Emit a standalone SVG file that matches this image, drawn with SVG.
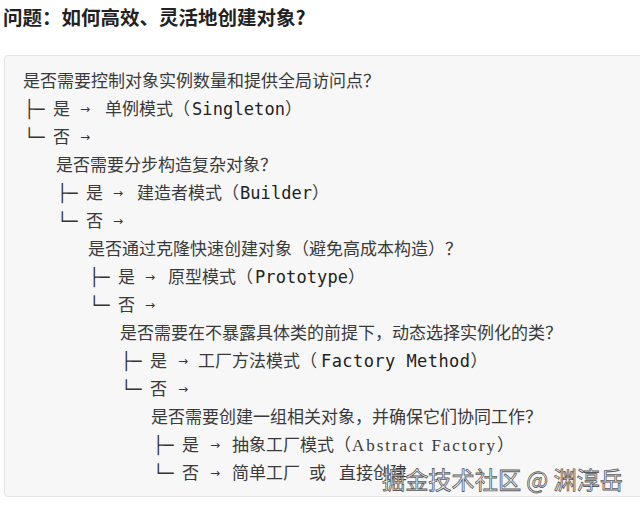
<svg xmlns="http://www.w3.org/2000/svg" width="640" height="512" viewBox="0 0 640 512">
<style>
.t{font-family:"Noto Sans CJK SC","Liberation Sans",sans-serif;font-size:17px;fill:#3a3a3a}
.title{font-family:"Noto Sans CJK SC","Liberation Sans",sans-serif;font-size:19.5px;font-weight:bold;fill:#222}
.tree{font-family:"DejaVu Sans Mono","Liberation Mono",monospace;font-size:17px;fill:#333}
.arr{font-family:"DejaVu Sans","Liberation Sans",sans-serif;font-size:12px;fill:#333}
.mono{font-family:"DejaVu Sans Mono","Liberation Mono",monospace;font-size:17px;fill:#222}
.serif{font-family:"Liberation Serif",serif;font-size:17px;fill:#3a3a3a}
.wm{font-family:"Noto Sans CJK SC","Liberation Sans",sans-serif;font-size:24px;fill:#f4f4f4;stroke:#5a5a5a;stroke-width:0.8}
</style>
<rect width="640" height="512" fill="#ffffff"/>
<g id="title"><text class="title" x="3" y="24.5">问题：如何高效、灵活地创建对象?</text></g>
<rect id="box" x="4.5" y="55.5" width="640" height="441" rx="3" fill="#f7f7f7" stroke="#e4e4e4"/>

<g id="q0"><text class="t" x="23" y="86.5">是否需要控制对象实例数量和提供全局访问点？</text></g>
<g id="yes0">
<text class="tree" x="24" y="114.5">├─</text>
<text class="t" x="53" y="114.5">是</text>
<text class="arr" x="80" y="112.5">→</text>
<text class="t" x="105" y="114.5">单例模式（<tspan class="mono" x="192" textLength="93">Singleton</tspan>）</text>
</g>
<g id="no0">
<text class="tree" x="24" y="142.5">└─</text>
<text class="t" x="53" y="142.5">否</text>
<text class="arr" x="80" y="140.5">→</text>
</g>

<g id="q1"><text class="t" x="56" y="170.5">是否需要分步构造复杂对象？</text></g>
<g id="yes1">
<text class="tree" x="57" y="198.5">├─</text>
<text class="t" x="86" y="198.5">是</text>
<text class="arr" x="113" y="196.5">→</text>
<text class="t" x="137" y="198.5">建造者模式（<tspan class="mono" x="240" textLength="72">Builder</tspan>）</text>
</g>
<g id="no1">
<text class="tree" x="57" y="226.5">└─</text>
<text class="t" x="86" y="226.5">否</text>
<text class="arr" x="113" y="224.5">→</text>
</g>

<g id="q2"><text class="t" x="88" y="254.5">是否通过克隆快速创建对象（避免高成本构造）？</text></g>
<g id="yes2">
<text class="tree" x="89" y="282.5">├─</text>
<text class="t" x="118" y="282.5">是</text>
<text class="arr" x="145" y="280.5">→</text>
<text class="t" x="168" y="282.5">原型模式（<tspan class="mono" x="255" textLength="93">Prototype</tspan>）</text>
</g>
<g id="no2">
<text class="tree" x="89" y="310.5">└─</text>
<text class="t" x="118" y="310.5">否</text>
<text class="arr" x="145" y="308.5">→</text>
</g>

<g id="q3"><text class="t" x="120" y="338.5">是否需要在不暴露具体类的前提下，动态选择实例化的类？</text></g>
<g id="yes3">
<text class="tree" x="121" y="366.5">├─</text>
<text class="t" x="150" y="366.5">是</text>
<text class="arr" x="178" y="364.5">→</text>
<text class="t" x="198" y="366.5">工厂方法模式（<tspan class="mono" x="321" textLength="149">Factory Method</tspan>）</text>
</g>
<g id="no3">
<text class="tree" x="121" y="394.5">└─</text>
<text class="t" x="150" y="394.5">否</text>
<text class="arr" x="178" y="392.5">→</text>
</g>

<g id="q4"><text class="t" x="151" y="422.5">是否需要创建一组相关对象，并确保它们协同工作？</text></g>
<g id="yes4">
<text class="tree" x="153" y="450.5">├─</text>
<text class="t" x="182" y="450.5">是</text>
<text class="arr" x="210" y="448.5">→</text>
<text class="t" x="232" y="450.5">抽象工厂模式（<tspan class="serif" x="352" textLength="143" lengthAdjust="spacing">Abstract Factory</tspan>）</text>
</g>
<g id="no4">
<text class="tree" x="153" y="478.5">└─</text>
<text class="t" x="182" y="478.5">否</text>
<text class="arr" x="210" y="476.5">→</text>
<text class="t" x="232" y="478.5">简单工厂<tspan x="309">或</tspan><tspan x="339">直接创建</tspan></text>
</g>

<g id="watermark"><text class="wm" x="382" y="489" textLength="241" lengthAdjust="spacingAndGlyphs">掘金技术社区 @ 渊淳岳</text></g>
</svg>
